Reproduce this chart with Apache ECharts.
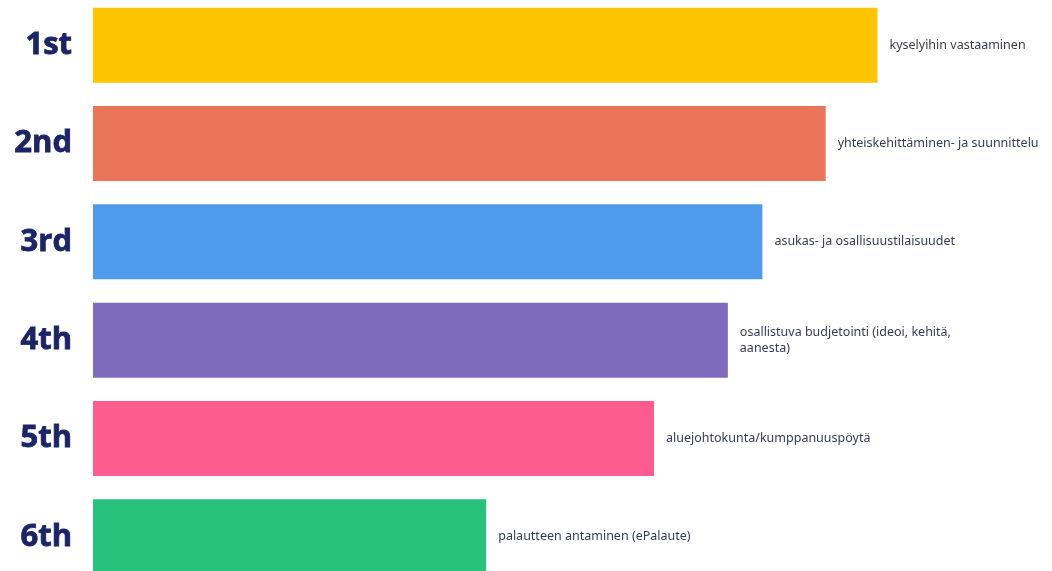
<!DOCTYPE html>
<html>
<head>
<meta charset="utf-8">
<script src="https://cdn.jsdelivr.net/npm/echarts@6/dist/echarts.min.js"></script>
<style>html,body{margin:0;padding:0;background:#fff;}#c{width:1052px;height:571px;}</style>
</head>
<body>
<div id="c"></div>
<script>
const ranks = ['1st', '2nd', '3rd', '4th', '5th', '6th'];
const activities = [
  'kyselyihin vastaaminen',
  'yhteiskehittäminen- ja suunnittelu',
  'asukas- ja osallisuustilaisuudet',
  'osallistuva budjetointi (ideoi, kehitä,\naanesta)',
  'aluejohtokunta/kumppanuuspöytä',
  'palautteen antaminen (ePalaute)'
];
const scores = [8.18, 7.64, 6.98, 6.62, 5.85, 4.1];
const colors = ['#FDC500', '#EB7558', '#4E9BED', '#7E6BBE', '#FE5B8E', '#27C37D'];

const chart = echarts.init(document.getElementById('c'));
chart.setOption({
  animation: false,
  grid: { left: 93, top: -4, height: 590, width: 959, outerBoundsMode: 'none', containLabel: false },
  xAxis: { type: 'value', min: 0, max: 10, show: false },
  yAxis: {
    type: 'category', data: ranks, inverse: true,
    axisLine: { show: false }, axisTick: { show: false },
    axisLabel: { margin: 21, fontFamily: 'Open Sans', fontWeight: 'bold', fontSize: 31, color: '#1B2467',
      textBorderColor: '#1B2467', textBorderWidth: 0.8 }
  },
  series: [{
    type: 'bar', barWidth: 75,
    data: scores.map((v, i) => ({ value: v, itemStyle: { color: colors[i] }, label: { formatter: activities[i] } })),
    label: { show: true, position: 'right', distance: 12, fontFamily: 'Noto Sans', fontSize: 12.5, color: '#373C56', lineHeight: 16 }
  }]
});
</script>
</body>
</html>
